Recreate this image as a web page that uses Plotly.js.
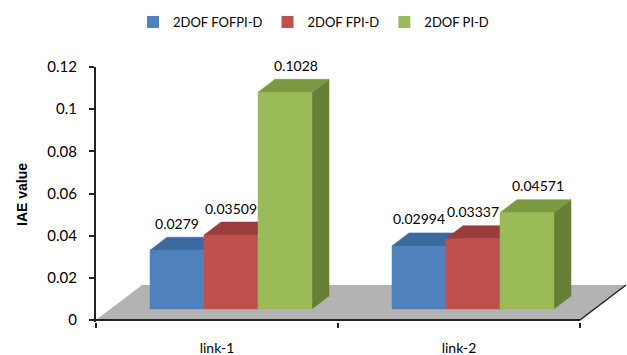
<!DOCTYPE html>
<html>
<head>
<meta charset="utf-8">
<script src="https://cdn.plot.ly/plotly-3.0.1.min.js"></script>
<style>html,body{margin:0;padding:0;background:#fff;}#chart{width:627px;height:355px;}</style>
</head>
<body>
<div id="chart"></div>
<script>
// ---- data ----
const categories = ['link-1', 'link-2'];
const seriesNames = ['2DOF FOFPI-D', '2DOF FPI-D', '2DOF PI-D'];
const fofpiD = [0.0279, 0.02994];
const fpiD = [0.03509, 0.03337];
const piD = [0.1028, 0.04571];
const yTickVals = [0, 0.02, 0.04, 0.06, 0.08, 0.1, 0.12];
const yTickText = ['0', '0.02', '0.04', '0.06', '0.08', '0.1', '0.12'];

// ---- style ----
const seriesValues = [fofpiD, fpiD, piD];
const frontColors = ['#4f81bd', '#c0504d', '#9bbb59'];
const topColors = ['#3c69a0', '#9b3d3b', '#7a9940'];
const sideColors = ['#355c8c', '#83332f', '#667f35'];
const FONT = 'Lato, "Liberation Sans", Arial, sans-serif';

const W = 627, H = 355;
const M = {l: 96, r: 0, t: 67, b: 33};
const plotW = W - M.l - M.r, plotH = H - M.t - M.b;
const pxPerCat = 242;               // px per category
const pxPer012 = 253;               // px for 0.12 on y
const yPerPx = 0.12 / pxPer012, xPerPx = 1 / pxPerCat;
const yMax = 0.12, yMin = yMax - plotH * yPerPx;
const xMin = -0.5, xMax = xMin + plotW * xPerPx;
const px2x = p => p * xPerPx, px2y = p => p * yPerPx;

const bw = px2x(54);                 // bar width
const frontDX = px2x(14), frontDY = px2y(11);   // bar front offset into depth
const depthDX = px2x(17), depthDY = px2y(13);   // bar depth
const floorDX = px2x(46), floorDY = px2y(35);   // floor depth
const labelShiftPx = [0, 0, 11];
const labelPadPx = 5;

const traces = [];
// legend / base bars (covered by polygons drawn in painter's order)
seriesValues.forEach((vals, s) => {
  traces.push({
    type: 'bar', name: seriesNames[s],
    x: categories.map((_, i) => i), y: vals,
    base: frontDY, width: bw, offset: frontDX + (s - 1.5) * bw,
    marker: {color: frontColors[s], line: {width: 0}},
    hoverinfo: 'skip'
  });
});

function poly(xs, ys, color) {
  traces.push({
    type: 'scatter', mode: 'lines', x: xs, y: ys, fill: 'toself',
    fillcolor: color, line: {color: color, width: 0.5},
    showlegend: false, hoverinfo: 'skip'
  });
}

categories.forEach((c, i) => {
  seriesValues.forEach((vals, s) => {
    const L = i + frontDX + (s - 1.5) * bw, R = L + bw;
    const B = frontDY, T = B + vals[i];
    poly([R, R + depthDX, R + depthDX, R, R], [B, B + depthDY, T + depthDY, T, B], sideColors[s]);
    poly([L, R, R + depthDX, L + depthDX, L], [T, T, T + depthDY, T + depthDY, T], topColors[s]);
    poly([L, R, R, L, L], [B, B, T, T, B], frontColors[s]);
  });
});

// data labels
const lx = [], ly = [], lt = [];
categories.forEach((c, i) => {
  seriesValues.forEach((vals, s) => {
    lx.push(i + frontDX + (s - 1) * bw + px2x(labelShiftPx[s]));
    ly.push(frontDY + vals[i] + depthDY + px2y(labelPadPx));
    lt.push(String(vals[i]));
  });
});
traces.push({
  type: 'scatter', mode: 'text', x: lx, y: ly, text: lt,
  textposition: 'top center', textfont: {family: FONT, size: 14, color: '#000'},
  cliponaxis: false, showlegend: false, hoverinfo: 'skip'
});

const catEdges = [-0.5].concat(categories.map((_, i) => i + 0.5));
const xEnd = catEdges[catEdges.length - 1];

const layout = {
  width: W, height: H,
  margin: M,
  paper_bgcolor: '#fff', plot_bgcolor: '#fff',
  showlegend: true,
  legend: {
    orientation: 'h', xref: 'container', yref: 'container',
    x: 0.5, xanchor: 'center', y: 1 - 22 / H, yanchor: 'middle',
    font: {family: FONT, size: 13, color: '#000'}, traceorder: 'normal',
    itemwidth: 30
  },
  xaxis: {
    range: [xMin, xMax], showgrid: false, zeroline: false, showline: false,
    tickmode: 'array', tickvals: categories.map((_, i) => i), ticktext: categories,
    ticks: '', ticklabelstandoff: 16,
    tickfont: {family: FONT, size: 14, color: '#000'},
    minor: {tickmode: 'array', tickvals: catEdges, ticks: 'outside', ticklen: 5, tickwidth: 2, tickcolor: '#222', showgrid: false},
    fixedrange: true
  },
  yaxis: {
    range: [yMin, yMax], showgrid: false, zeroline: false,
    showline: true, linecolor: '#222', linewidth: 2,
    tickmode: 'array', tickvals: yTickVals, ticktext: yTickText,
    ticks: 'outside', ticklen: 5, tickwidth: 2, tickcolor: '#222',
    ticklabelstandoff: 9,
    tickfont: {family: FONT, size: 15, color: '#000'},
    title: {text: 'IAE value', font: {family: '"Liberation Sans", Arial, sans-serif', size: 14, weight: 'bold', color: '#000'}, standoff: 16},
    fixedrange: true
  },
  shapes: [
    {type: 'path', xref: 'x', yref: 'y', layer: 'below',
     path: `M${xMin},0 L${xEnd},0 L${xEnd + floorDX},${floorDY} L${xMin + floorDX},${floorDY} Z`,
     fillcolor: '#b3b3b3', line: {width: 0}},
    {type: 'line', xref: 'x', yref: 'y', x0: xEnd, y0: 0, x1: xEnd + floorDX, y1: floorDY,
     line: {color: '#222', width: 1.5}},
    {type: 'line', xref: 'x', yref: 'y', x0: xMin, y0: 0, x1: xEnd, y1: 0,
     line: {color: '#222', width: 2}}
  ],
  bargap: 0
};

Plotly.newPlot('chart', traces, layout, {displayModeBar: false, staticPlot: true});
</script>
</body>
</html>
